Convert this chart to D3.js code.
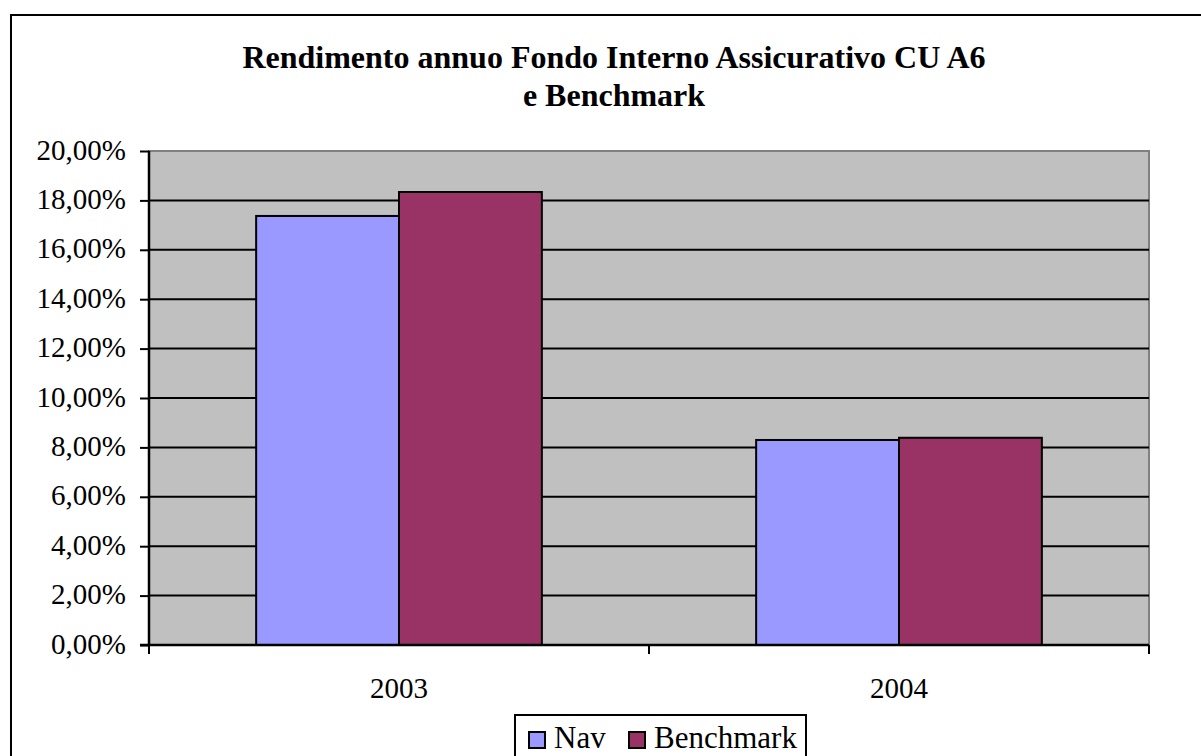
<!DOCTYPE html>
<html>
<head>
<meta charset="utf-8">
<script src="https://cdn.jsdelivr.net/npm/d3@7"></script>
<style>
  html, body { margin: 0; padding: 0; background: #fff; }
  svg { display: block; font-family: "Liberation Serif", "Times New Roman", serif; }
</style>
</head>
<body>
<svg id="chart"></svg>
<script>
// values (percent)
const years = ["2003", "2004"];
const seriesNames = ["Nav", "Benchmark"];
const navValues = [17.37, 8.3];
const benchmarkValues = [18.34, 8.39];
const yTicks = [0, 2, 4, 6, 8, 10, 12, 14, 16, 18, 20];
const titleLines = ["Rendimento annuo Fondo Interno Assicurativo CU A6", "e Benchmark"];

const layout = {
  width: 1201,
  height: 756,
  plot: { left: 149, top: 151, right: 1149, bottom: 645 },
  palette: ["#9999FF", "#993366"],
};

function render() {
  const { width, height, plot, palette } = layout;
  const svg = d3.select("svg#chart").attr("width", width).attr("height", height);

  const rows = years.map((year, i) => ({
    year,
    values: [
      { name: seriesNames[0], value: navValues[i] },
      { name: seriesNames[1], value: benchmarkValues[i] },
    ],
  }));

  const x0 = d3.scaleBand().domain(years).range([plot.left, plot.right]);
  const x1 = d3
    .scaleBand()
    .domain(seriesNames)
    .range([0, x0.bandwidth()])
    .paddingInner(0)
    .paddingOuter(0.75);
  const y = d3.scaleLinear().domain([0, 20]).range([plot.bottom, plot.top]);
  const color = d3.scaleOrdinal().domain(seriesNames).range(palette);

  // chart frame (runs off the right/bottom edge like the original)
  svg
    .append("rect")
    .attr("x", 11)
    .attr("y", 15)
    .attr("width", 1220)
    .attr("height", 780)
    .attr("fill", "#fff")
    .attr("stroke", "#000")
    .attr("stroke-width", 2);

  // title
  svg
    .append("g")
    .selectAll("text")
    .data(titleLines)
    .join("text")
    .attr("x", 614)
    .attr("y", (_, i) => 68 + i * 38)
    .attr("text-anchor", "middle")
    .style("font-size", "32px")
    .style("font-weight", "bold")
    .text((d) => d);

  // plot area
  svg
    .append("rect")
    .attr("x", plot.left)
    .attr("y", plot.top)
    .attr("width", plot.right - plot.left)
    .attr("height", plot.bottom - plot.top)
    .attr("fill", "#C0C0C0")
    .attr("stroke", "#808080")
    .attr("stroke-width", 2);

  // gridlines
  svg
    .append("g")
    .selectAll("line")
    .data(yTicks.filter((d) => d > 0 && d < 20))
    .join("line")
    .attr("x1", plot.left)
    .attr("x2", plot.right)
    .attr("y1", (d) => y(d))
    .attr("y2", (d) => y(d))
    .attr("stroke", "#000")
    .attr("stroke-width", 2);

  // bars
  svg
    .append("g")
    .selectAll("g")
    .data(rows)
    .join("g")
    .attr("transform", (d) => `translate(${x0(d.year)},0)`)
    .selectAll("rect")
    .data((d) => d.values)
    .join("rect")
    .attr("x", (d) => x1(d.name))
    .attr("y", (d) => y(d.value))
    .attr("width", x1.bandwidth())
    .attr("height", (d) => y(0) - y(d.value))
    .attr("fill", (d) => color(d.name))
    .attr("stroke", "#000")
    .attr("stroke-width", 2);

  // y axis
  const yAxis = svg
    .append("g")
    .attr("transform", `translate(${plot.left},0)`)
    .call(
      d3
        .axisLeft(y)
        .tickValues(yTicks)
        .tickSize(9)
        .tickPadding(14)
        .tickFormat((d) => d.toFixed(2).replace(".", ",") + "%")
    );
  yAxis.select(".domain").attr("stroke-width", 2.5).attr("d", `M0,${plot.top}V${plot.bottom}`);
  yAxis.selectAll(".tick line").attr("stroke-width", 2);
  yAxis
    .selectAll(".tick text")
    .attr("dy", "0.28em")
    .style("font-size", "29px")
    .style("font-family", "'Liberation Serif', serif")
    .attr("fill", "#000");

  // x axis: ticks on category boundaries, labels centred
  const xAxis = svg.append("g");
  xAxis
    .append("line")
    .attr("x1", plot.left - 9)
    .attr("x2", plot.right)
    .attr("y1", plot.bottom)
    .attr("y2", plot.bottom)
    .attr("stroke", "#000")
    .attr("stroke-width", 2.5);
  const bounds = years.map((d) => x0(d)).concat([plot.right]);
  xAxis
    .selectAll("line.tick")
    .data(bounds)
    .join("line")
    .attr("class", "tick")
    .attr("x1", (d) => d)
    .attr("x2", (d) => d)
    .attr("y1", plot.bottom)
    .attr("y2", plot.bottom + 9)
    .attr("stroke", "#000")
    .attr("stroke-width", 2);
  xAxis
    .selectAll("text")
    .data(years)
    .join("text")
    .attr("x", (d) => x0(d) + x0.bandwidth() / 2)
    .attr("y", 698)
    .attr("text-anchor", "middle")
    .style("font-size", "29px")
    .text((d) => d);

  // legend
  const legend = svg.append("g");
  legend
    .append("rect")
    .attr("x", 515)
    .attr("y", 715)
    .attr("width", 291)
    .attr("height", 70)
    .attr("fill", "#fff")
    .attr("stroke", "#000")
    .attr("stroke-width", 2);
  const legendX = [529, 629];
  const item = legend
    .selectAll("g")
    .data(seriesNames)
    .join("g")
    .attr("transform", (_, i) => `translate(${legendX[i]},732)`);
  item
    .append("rect")
    .attr("width", 16)
    .attr("height", 16)
    .attr("fill", (d) => color(d))
    .attr("stroke", "#000")
    .attr("stroke-width", 2);
  item
    .append("text")
    .attr("x", 25)
    .attr("y", 16)
    .style("font-size", "31px")
    .text((d) => d);
}

render();
</script>
</body>
</html>
